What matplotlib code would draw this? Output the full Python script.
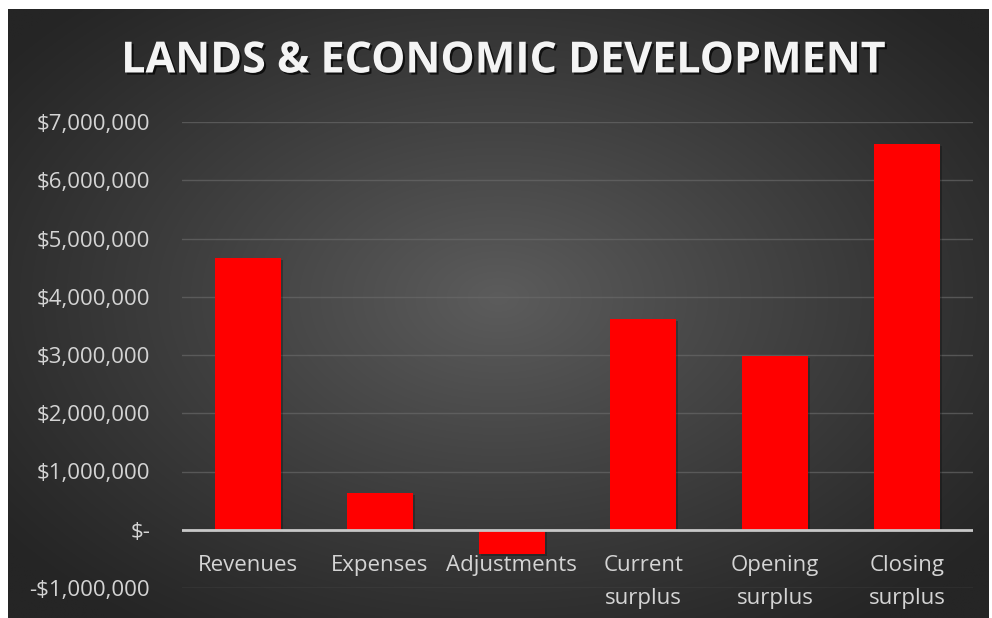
import numpy as np
import matplotlib
matplotlib.use("Agg")
import matplotlib.pyplot as plt
import matplotlib.patheffects as pe
from matplotlib.ticker import FuncFormatter

categories = ["Revenues", "Expenses", "Adjustments", "Current\nsurplus", "Opening\nsurplus", "Closing\nsurplus"]
values = [4670000, 630000, -410000, 3620000, 2990000, 6620000]
yticks = [-1000000, 0, 1000000, 2000000, 3000000, 4000000, 5000000, 6000000, 7000000]
title = "LANDS & ECONOMIC DEVELOPMENT"

plt.rcParams['font.family'] = ['Open Sans', 'DejaVu Sans']

W, H = 992, 618
fig = plt.figure(figsize=(W / 100, H / 100), dpi=100)
fig.patch.set_facecolor("white")

# dark radial gradient panel
bx0, bx1, by0, by1 = 8, 989, 0, 609  # pixels (bottom-up y)
bg = fig.add_axes([bx0 / W, by0 / H, (bx1 - bx0) / W, (by1 - by0) / H])
bg.set_axis_off()
nx, ny = 400, 250
xx, yy = np.meshgrid(np.linspace(-1, 1, nx), np.linspace(-1, 1, ny))
r = np.sqrt((xx / 1.0) ** 2 + ((yy + 0.05) / 1.05) ** 2) / np.sqrt(2)
r = np.clip(r / 0.9, 0, 1)
c_center = np.array([0x5c, 0x5c, 0x5c]) / 255
c_edge = np.array([0x25, 0x25, 0x25]) / 255
t = (1 - r) ** 1.1
img = c_edge[None, None, :] + (c_center - c_edge)[None, None, :] * t[..., None]
bg.imshow(img, aspect="auto", extent=[0, 1, 0, 1], interpolation="bilinear")
bg.set_xlim(0, 1); bg.set_ylim(0, 1)

# main chart axes
left, right, top, bottom = 182, 973, 122, 588
ax = fig.add_axes([left / W, 1 - bottom / H, (right - left) / W, (bottom - top) / H])
ax.patch.set_alpha(0)
x = np.arange(len(categories))
bars = ax.bar(x, values, width=0.5, color="#ff0000", zorder=3)
for b in bars:
    b.set_path_effects([pe.SimplePatchShadow(offset=(1.5, -1.5), shadow_rgbFace="black", alpha=0.25), pe.Normal()])

ax.set_ylim(-1000000, 7000000)
ax.set_xlim(-0.5, len(categories) - 0.5)
ax.set_yticks(yticks)

def fmt(v, pos):
    if v == 0:
        return "$-"
    s = "${:,.0f}".format(abs(v))
    return "-" + s if v < 0 else s

ax.yaxis.set_major_formatter(FuncFormatter(fmt))
ax.tick_params(axis="y", length=0, pad=23, labelsize=16, labelcolor="#d4d4d4")
ax.set_xticks([])
for s in ax.spines.values():
    s.set_visible(False)
ax.grid(axis="y", color="#6a6a6a", linewidth=1.0, alpha=0.65, zorder=0)
ax.axhline(0, color="#c8c8c8", linewidth=2.0, zorder=4)

for i, c in enumerate(categories):
    ax.annotate(c, xy=(i, 0), xycoords=("data", "data"), xytext=(0, -18),
                textcoords="offset points", ha="center", va="top",
                fontsize=16, color="#d4d4d4", linespacing=1.75)

fig.text(503 / W, 1 - 61 / H, title, ha="center", va="center", fontsize=31,
         fontweight="bold", color="#f4f4f4",
         path_effects=[pe.withSimplePatchShadow(offset=(1.5, -1.5), shadow_rgbFace="black", alpha=0.7)])

fig.savefig("out.png", dpi=100, facecolor="white")
